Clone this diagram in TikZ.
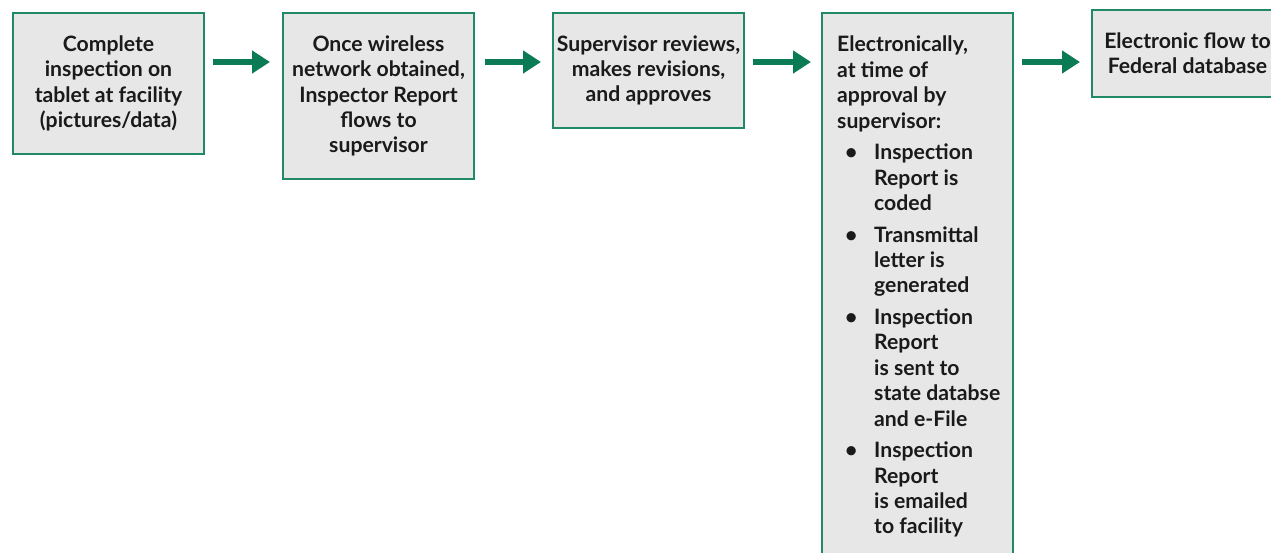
\documentclass[tikz,border=0pt]{standalone}
\usepackage{fontspec}
\setmainfont{Lato}
\usetikzlibrary{arrows.meta,calc}
\definecolor{boxgreen}{HTML}{1F8A63}
\definecolor{arrowgreen}{HTML}{0B7B56}
\definecolor{boxfill}{HTML}{E7E7E7}
\definecolor{txt}{HTML}{1A1A1A}
\begin{document}
\begin{tikzpicture}[x=1pt,y=-1pt,
  stepbox/.style={draw=boxgreen, line width=2pt, fill=boxfill, minimum width=191pt,
    inner sep=0pt, anchor=north west, text=txt, align=center,
    font=\fontsize{21.2pt}{25.4pt}\selectfont\bfseries},
  flowarrow/.style={draw=arrowgreen, line width=6pt,
    -{Triangle[length=18pt,width=22pt]}, shorten <=0pt},
  listtext/.style={anchor=north west, inner sep=0pt, align=left, text=txt,
    font=\fontsize{21.2pt}{25.4pt}\selectfont\bfseries}]
\useasboundingbox (0,0) rectangle (1271,553);
\clip (0,0) rectangle (1271,553);
\node[stepbox, minimum height=141pt] (b1) at (12,12)
  {Complete\\ inspection on\\ tablet at facility\\ (pictures/data)};
\node[stepbox, minimum height=166pt] (b2) at (282,12)
  {Once wireless\\ network obtained,\\ Inspector Report\\ flows to\\ supervisor};
\node[stepbox, minimum height=115pt] (b3) at (552,12)
  {Supervisor reviews,\\ makes revisions,\\ and approves};
\node[stepbox, minimum height=560pt] (b4) at (821,12) {};
\node[stepbox, minimum height=87pt] (b5) at (1091,9)
  {Electronic flow to\\ Federal database};
\newcommand{\bul}{\makebox[37pt][l]{\hspace{8pt}\textbullet}}
\node[listtext] (t4) at (837,36)
  {Electronically,\\ at time of\\ approval by\\ supervisor:\\[6.2pt]
   \bul Inspection\\ \hspace*{37pt}Report is\\ \hspace*{37pt}coded\\[6.2pt]
   \bul Transmittal\\ \hspace*{37pt}letter is\\ \hspace*{37pt}generated\\[6.2pt]
   \bul Inspection\\ \hspace*{37pt}Report\\ \hspace*{37pt}is sent to\\ \hspace*{37pt}state databse\\ \hspace*{37pt}and e-File\\[6.2pt]
   \bul Inspection\\ \hspace*{37pt}Report\\ \hspace*{37pt}is emailed\\ \hspace*{37pt}to facility};
\coordinate (a1s) at ($(b1.north east)+(8,50)$);
\coordinate (a1e) at ($(b2.north west)+(-12,50)$);
\coordinate (a2s) at ($(b2.north east)+(10,50)$);
\coordinate (a2e) at ($(b3.north west)+(-11,50)$);
\coordinate (a3s) at ($(b3.north east)+(8,50)$);
\coordinate (a3e) at ($(b4.north west)+(-10,50)$);
\coordinate (a4s) at ($(b4.north east)+(8,50)$);
\coordinate (a4e) at ($(b5.north west)+(-11,53)$);
\draw[flowarrow] (a1s) -- (a1e);
\draw[flowarrow] (a2s) -- (a2e);
\draw[flowarrow] (a3s) -- (a3e);
\draw[flowarrow] (a4s) -- (a4e);
\end{tikzpicture}
\end{document}
